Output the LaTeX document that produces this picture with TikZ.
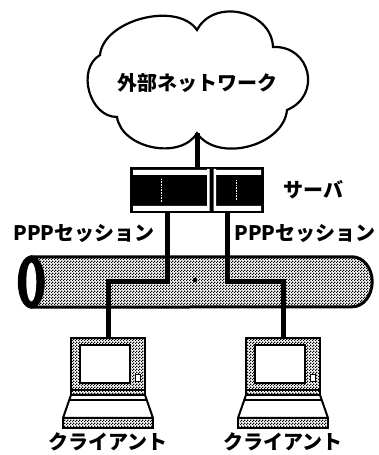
\documentclass[tikz,border=0pt]{standalone}
\usepackage{fontspec}
\setmainfont{Noto Sans CJK JP}
\usetikzlibrary{positioning,patterns.meta}

% fine checkerboard, like a printed halftone
\tikzdeclarepattern{
  name=dither,
  type=uncolored,
  bounding box={(0pt,0pt) and (3pt,3pt)},
  tile size={(3pt,3pt)},
  code={
    \fill (0pt,0pt) rectangle (1.5pt,1.5pt);
    \fill (1.5pt,1.5pt) rectangle (3pt,3pt);
  }
}

\begin{document}
\begin{tikzpicture}[
    x=1pt, y=1pt,
    font=\fontsize{20}{24}\selectfont\bfseries,
    link/.style={line width=5pt},
    caption/.style={inner sep=1pt},
    server/.style={fill=black, minimum width=134pt, minimum height=46pt, inner sep=0pt,
        path picture={
          \begin{scope}[shift={(path picture bounding box.center)}]
            \fill[white] (-64,15) rectangle (10,20) (19,15) rectangle (64,20);
            \fill[white] (-64,-21) rectangle (10,-16) (19,-21) rectangle (64,-16);
            \fill[white] (10,-21) rectangle (12.5,21) (16.5,-21) rectangle (19,21);
            \draw[white, densely dotted, line width=0.6pt] (-36,-12) -- (-36,12) (39,-10) -- (39,10);
          \end{scope}}},
    client/.style={minimum width=90pt, minimum height=90pt, inner sep=0pt},
    pics/notebook/.style={code={
        % lid and screen
        \draw[line width=2.4pt, pattern=dither] (-37,-12) rectangle (37,45);
        \draw[line width=1.6pt, fill=white] (-28,0) rectangle (22,38);
        \draw[line width=1pt, fill=white] (27,1) rectangle (32,8);
        \draw[line width=1.2pt] (-37,-7) -- (37,-7);
        % keyboard base
        \draw[line width=2pt, fill=white, line join=round] (-37,-12) -- (37,-12) -- (45,-35) -- (-45,-35) -- cycle;
        \draw[line width=1.2pt] (-38.5,-17) -- (38.5,-17);
        \draw[line width=2pt, pattern=dither] (-45,-45) rectangle (45,-35);
    }}
]
\useasboundingbox (0,0) rectangle (378,455);

% outside network, six puffs drawn round the text
\node[minimum width=190pt, minimum height=100pt, inner sep=0pt] (net) at (197,372) {外部ネットワーク};
\draw[line width=2.2pt]
    (100,400) to[bend left=70, looseness=0.9] (197,425)
              to[bend left=75, looseness=1.2] (273,408)
              to[bend left=80, looseness=1.5] (287,345)
              to[bend left=70] (net.south)
              to[bend left=70] (117,338)
              to[bend left=75, looseness=1.1] cycle;

\node[server] (srv) at (197,265) {};
\node[caption, right=18pt of srv] (srvname) {サーバ};

% the tunnel carrying both sessions
\node[minimum width=354pt, minimum height=50pt, inner sep=0pt] (tube) at (195,173) {};
\coordinate (face) at ([xshift=13.5pt]tube.west);
\draw[line width=3pt, pattern=dither] ([xshift=13.5pt]tube.north west) -- ([xshift=-20pt]tube.north east)
    arc[start angle=90, end angle=-90, x radius=20, y radius=25] -- ([xshift=13.5pt]tube.south west) -- cycle;
\filldraw[line width=3pt] (face) ellipse [x radius=12, y radius=25];
\fill[white] (face) ellipse [x radius=5, y radius=19.5];
\fill ([yshift=2pt]tube.center) circle (2.3pt);

\node[caption] (pppA) at (84,222) {PPPセッション};
\node[caption] (pppB) at (305,222) {PPPセッション};

\node[client] (pcA) at (108,72) {};
\node[client] (pcB) at (283,72) {};
\node[caption, below=3pt of pcA] (nameA) {クライアント};
\node[caption, below=3pt of pcB] (nameB) {クライアント};

\coordinate (portA) at ([xshift=-30pt]srv.south);
\coordinate (portB) at ([xshift=30pt]srv.south);
\draw[link] (net.south) -- (srv.north);
\draw[link] (portA) -- (portA |- tube.center) -| (pcA.north);
\draw[link] (portB) -- (portB |- tube.center) -| (pcB.north);

\pic at (pcA) {notebook};
\pic at (pcB) {notebook};
\end{tikzpicture}
\end{document}
